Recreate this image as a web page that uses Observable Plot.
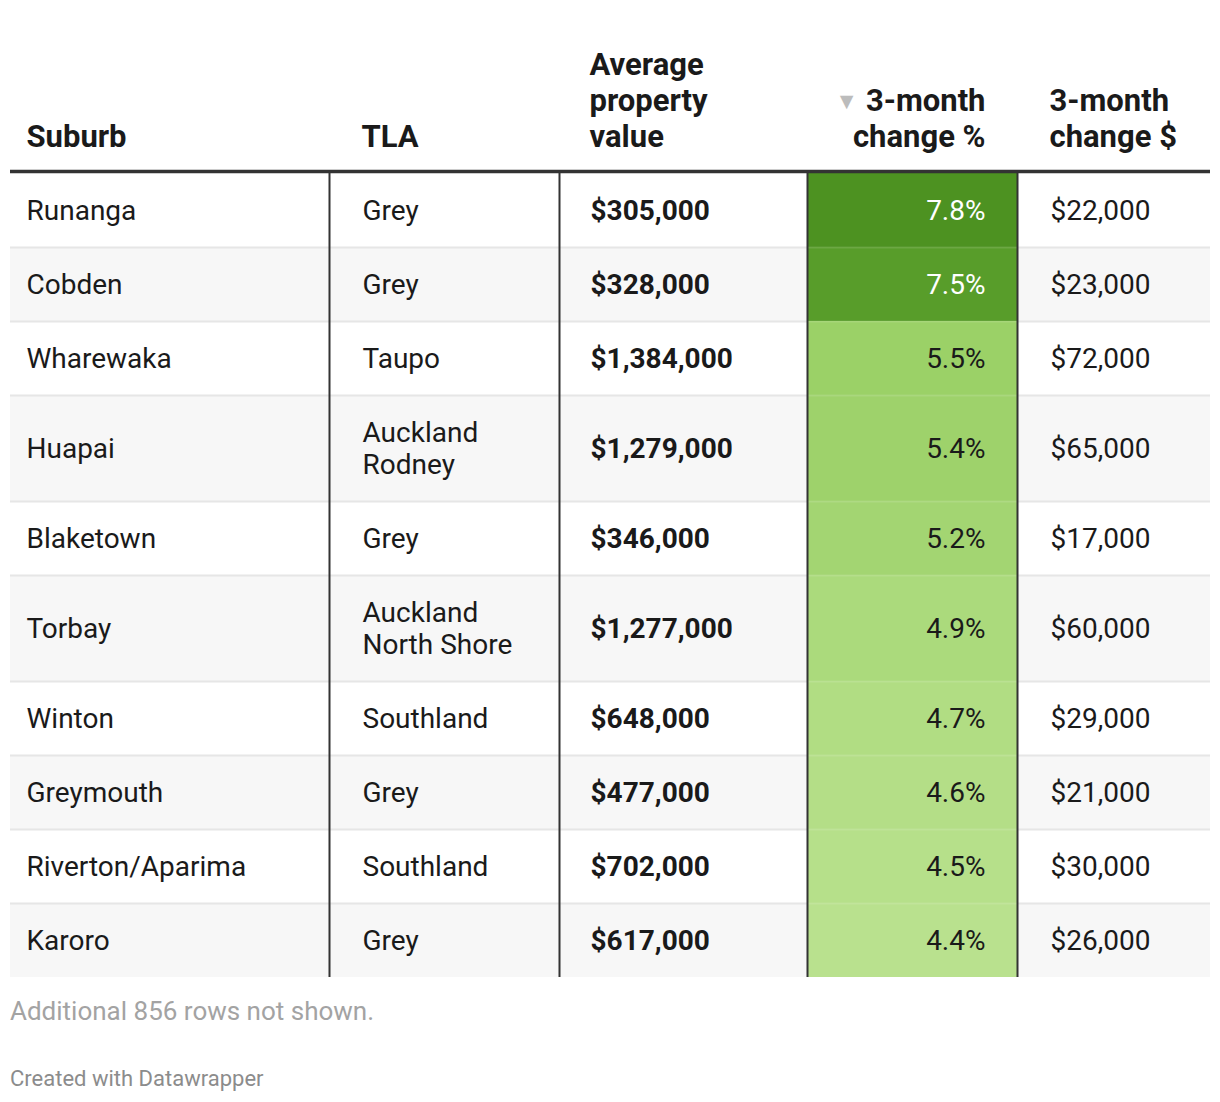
<!DOCTYPE html>
<html>
<head>
<meta charset="utf-8">
<script src="https://cdn.jsdelivr.net/npm/d3@7"></script>
<script src="https://cdn.jsdelivr.net/npm/@observablehq/plot@0.6"></script>
<style>
  body { margin: 0; background: #fff; font-family: Roboto, sans-serif; }
  svg { display: block; }
  .note1 { margin-left: 10px; padding-top: 6px; font-size: 26px; line-height: 30px; color: #a3a3a3; }
  .note2 { margin-left: 10px; margin-top: 40px; font-size: 22px; line-height: 26px; color: #8c8c8c; }
</style>
</head>
<body>
<div id="chart"></div>
<div class="note1">Additional 856 rows not shown.</div>
<div class="note2">Created with Datawrapper</div>
<script>
// ---- data ----
const headers = ["Suburb", "TLA", "Average property value", "3-month change %", "3-month change $"];
const suburbs = ["Runanga", "Cobden", "Wharewaka", "Huapai", "Blaketown", "Torbay", "Winton", "Greymouth", "Riverton/Aparima", "Karoro"];
const tlas = ["Grey", "Grey", "Taupo", "Auckland Rodney", "Grey", "Auckland North Shore", "Southland", "Grey", "Southland", "Grey"];
const avgValues = [305000, 328000, 1384000, 1279000, 346000, 1277000, 648000, 477000, 702000, 617000];
const pctChanges = [7.8, 7.5, 5.5, 5.4, 5.2, 4.9, 4.7, 4.6, 4.5, 4.4];
const dollarChanges = [22000, 23000, 72000, 65000, 17000, 60000, 29000, 21000, 30000, 26000];
const colorStops = [4.4, 5.5, 7.5, 7.8];
const colorRange = ["#b9e18e", "#9bd167", "#589d2a", "#4d9221"];

// ---- layout ----
const W = 1220, H = 990;
const colEdges = [10, 329, 559, 807, 1017, 1210];
const wrapInset = 60;
const headerLineY = 171, bodyTop = 173;
const rowBase = 74, lineStep = 32;
const bodyFont = 28, headFont = 31;

const ctx = document.createElement("canvas").getContext("2d");
function wrap(text, font, maxW) {
  ctx.font = font;
  const words = text.split(" ");
  const lines = [];
  let cur = "";
  for (const w of words) {
    const t = cur ? cur + " " + w : w;
    if (cur && ctx.measureText(t).width > maxW) { lines.push(cur); cur = w; }
    else cur = t;
  }
  if (cur) lines.push(cur);
  return lines;
}

const fmtMoney = d3.format("$,");
const fmtPct = d => d3.format(".1f")(d) + "%";

let yy = bodyTop;
const rows = suburbs.map((s, i) => {
  const tlaLines = wrap(tlas[i], `${bodyFont}px Roboto`, colEdges[2] - colEdges[1] - wrapInset);
  const h = rowBase + lineStep * (tlaLines.length - 1);
  const r = { i, suburb: s, tla: tlaLines.join("\n"), value: avgValues[i], pct: pctChanges[i], change: dollarChanges[i], y0: yy, y1: yy + h, yc: yy + h / 2 - 1 };
  yy += h;
  return r;
});
const tableBottom = yy;

const heads = headers.map((h, i) => {
  const lines = wrap(h, `bold ${headFont}px Roboto`, colEdges[i + 1] - colEdges[i] - wrapInset);
  return { i, text: lines.join("\n") };
});
const headX = [26, 361, 589, 985, 1049];

const body = { fontSize: bodyFont, lineHeight: lineStep / bodyFont, lineAnchor: "middle", fill: "#1a1a1a" };
const headStyle = { fontSize: headFont, fontWeight: "bold", lineHeight: 36 / headFont, lineAnchor: "bottom", fill: "#1a1a1a", y: () => 146 };

const chart = Plot.plot({
  width: W, height: H,
  marginTop: 0, marginRight: 0, marginBottom: 0, marginLeft: 0,
  x: { domain: [0, W], range: [0, W], axis: null },
  y: { domain: [0, H], range: [0, H], axis: null },
  color: { type: "linear", domain: colorStops, range: colorRange },
  style: { fontFamily: "Roboto, sans-serif", background: "#fff" },
  marks: [
    Plot.rect(rows.filter(d => d.i % 2 === 1), { x1: () => colEdges[0], x2: () => colEdges[5], y1: "y0", y2: "y1", fill: "#f7f7f7" }),
    Plot.ruleY(rows.slice(1), { y: "y0", x1: () => colEdges[0], x2: () => colEdges[5], stroke: "#e6e6e6", strokeWidth: 2 }),
    Plot.rect(rows, { x1: () => colEdges[3], x2: () => colEdges[4], y1: "y0", y2: "y1", fill: "pct" }),
    Plot.ruleY(rows.slice(1), { y: "y0", x1: () => colEdges[3], x2: () => colEdges[4], stroke: "#fff", strokeOpacity: 0.12, strokeWidth: 2 }),
    Plot.ruleX(colEdges.slice(1, 5), { x: d => d, y1: () => bodyTop, y2: () => tableBottom, stroke: "#333", strokeWidth: 2 }),
    Plot.ruleY([headerLineY], { y: d => d, x1: () => colEdges[0], x2: () => colEdges[5], stroke: "#333", strokeWidth: 3.5 }),
    // header
    Plot.text(heads.filter(d => d.i !== 3), { ...headStyle, x: d => headX[d.i], text: "text", textAnchor: "start" }),
    Plot.text(heads.filter(d => d.i === 3), { ...headStyle, x: d => headX[d.i], text: "text", textAnchor: "end" }),
    Plot.text(heads.filter(d => d.i === 3), { x: () => 846, y: () => 101, text: () => "▼", fontSize: 23, fill: "#bcbcbc", textAnchor: "middle", lineAnchor: "middle" }),
    // body
    Plot.text(rows, { ...body, x: () => 26, y: "yc", text: "suburb", textAnchor: "start" }),
    Plot.text(rows, { ...body, x: () => 362, y: "yc", text: "tla", textAnchor: "start" }),
    Plot.text(rows, { ...body, x: () => 590, y: "yc", text: d => fmtMoney(d.value), textAnchor: "start", fontWeight: "bold" }),
    Plot.text(rows.filter(d => d.pct < 7), { ...body, x: () => 985, y: "yc", text: d => fmtPct(d.pct), textAnchor: "end" }),
    Plot.text(rows.filter(d => d.pct >= 7), { ...body, x: () => 985, y: "yc", text: d => fmtPct(d.pct), textAnchor: "end", fill: "#fff" }),
    Plot.text(rows, { ...body, x: () => 1050, y: "yc", text: d => fmtMoney(d.change), textAnchor: "start" })
  ]
});
document.getElementById("chart").appendChild(chart);
</script>
</body>
</html>
